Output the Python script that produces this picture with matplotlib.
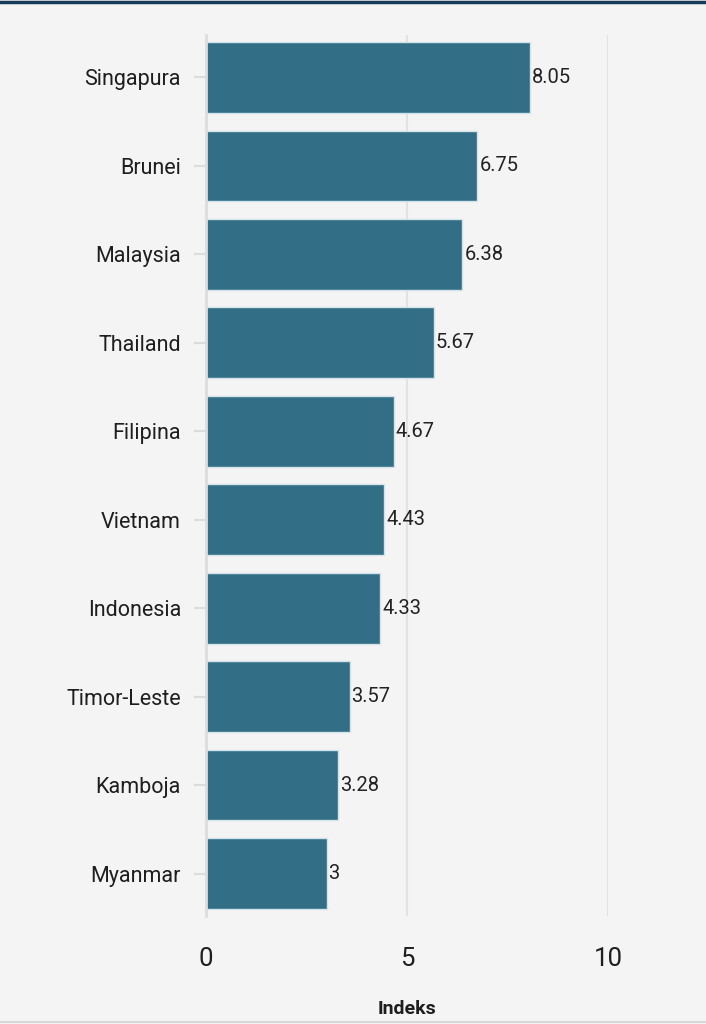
import numpy as np
import matplotlib.pyplot as plt

plt.rcParams['font.family'] = ['Roboto', 'DejaVu Sans']

negara = ["Singapura", "Brunei", "Malaysia", "Thailand", "Filipina",
          "Vietnam", "Indonesia", "Timor-Leste", "Kamboja", "Myanmar"]
indeks = [8.05, 6.75, 6.38, 5.67, 4.67, 4.43, 4.33, 3.57, 3.28, 3]
label_nilai = ["8.05", "6.75", "6.38", "5.67", "4.67", "4.43", "4.33", "3.57", "3.28", "3"]

bg = "#f4f4f4"
fig = plt.figure(figsize=(7.06, 10.24), dpi=100, facecolor=bg)
ax = fig.add_axes([0.2918, 0.1055, 0.5694, 0.8603], facecolor=bg)

y = np.arange(len(negara))[::-1]
ax.barh(y, indeks, height=0.8, color="#326f87", edgecolor="#d4e3ea", linewidth=1, zorder=3)
for yi, v, t in zip(y, indeks, label_nilai):
    ax.text(v + 0.05, yi, t, va="center", ha="left", fontsize=14.5, color="#222222", zorder=4)

ax.set_xlim(0, 10)
ax.set_ylim(-0.48, 9.48)
ax.set_xticks([0, 5, 10])
ax.set_yticks(y)
ax.set_yticklabels(negara, fontsize=15.5, color="#1e1e1e")
ax.tick_params(axis="x", length=0, pad=22.5, labelsize=18.5, labelcolor="#1e1e1e")
ax.tick_params(axis="y", length=9, width=1.5, color="#dcdcdc", pad=9)
ax.grid(axis="x", color="#e2e2e2", linewidth=1.5, zorder=0)
for s in ["top", "right", "bottom"]:
    ax.spines[s].set_visible(False)
ax.spines["left"].set_color("#dcdcdc")
ax.spines["left"].set_linewidth(2)
ax.spines["left"].set_zorder(5)

ax.set_xlabel("Indeks", fontsize=14, fontweight="bold", color="#1e1e1e", labelpad=21)

fig.add_artist(plt.Line2D([0, 1], [0.9985, 0.9985], color="#163a57", linewidth=2.5))
fig.add_artist(plt.Line2D([0, 1], [0.002, 0.002], color="#d8d8d8", linewidth=1.5))

fig.savefig("out.png", dpi=100, facecolor=bg)
